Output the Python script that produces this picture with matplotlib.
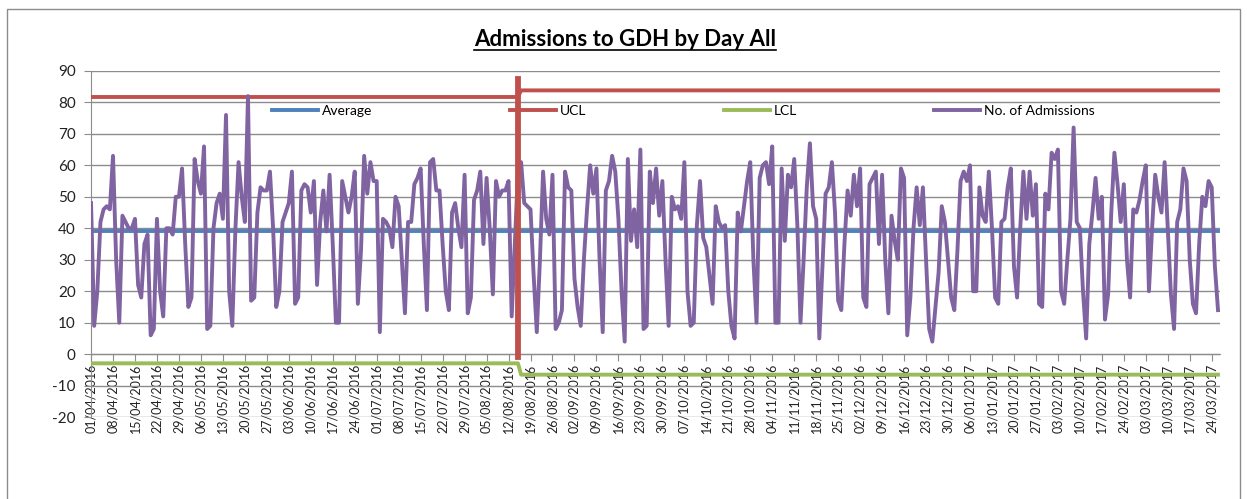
import matplotlib.pyplot as plt
import matplotlib.dates as mdates
import matplotlib.patches as patches
from matplotlib.lines import Line2D
import numpy as np
import pandas as pd

plt.rcParams['font.family'] = ['Lato', 'DejaVu Sans']
plt.rcParams['axes.unicode_minus'] = False

# daily admissions from 01/04/2016
admissions = [
    48, 9, 20, 42, 46, 47, 46,
    63, 30, 10, 44, 42, 40, 40,
    43, 22, 18, 35, 38, 6, 8,
    43, 20, 12, 40, 40, 38, 50,
    50, 59, 35, 15, 18, 62, 55,
    51, 66, 8, 9, 40, 48, 51,
    43, 76, 20, 9, 40, 61, 50,
    42, 82, 17, 18, 45, 53, 52,
    52, 58, 40, 15, 20, 42, 45,
    48, 58, 16, 18, 52, 54, 53,
    45, 55, 22, 42, 52, 39, 57,
    35, 10, 10, 55, 50, 45, 50,
    58, 16, 33, 63, 51, 61, 55,
    55, 7, 43, 42, 40, 34, 50,
    47, 30, 13, 42, 42, 54, 56,
    59, 35, 14, 61, 62, 52, 52,
    35, 20, 14, 45, 48, 40, 34,
    57, 13, 18, 49, 52, 58, 35,
    56, 40, 19, 55, 50, 52, 52,
    55, 12, 35, 58, 61, 48, 47,
    46, 25, 7, 30, 58, 43, 38,
    57, 8, 10, 14, 58, 53, 52,
    24, 15, 9, 30, 46, 60, 51,
    59, 30, 7, 52, 55, 63, 58,
    43, 20, 4, 62, 36, 46, 34,
    65, 8, 9, 58, 48, 59, 44,
    55, 30, 9, 50, 46, 47, 43,
    61, 20, 9, 10, 41, 55, 37,
    34, 25, 16, 47, 42, 40, 41,
    20, 9, 5, 45, 39, 47, 55,
    61, 30, 10, 56, 60, 61, 54,
    66, 10, 10, 59, 36, 57, 53,
    62, 41, 10, 30, 53, 67, 47,
    43, 5, 28, 51, 53, 61, 45,
    17, 14, 35, 52, 44, 57, 47,
    59, 18, 15, 54, 56, 58, 35,
    57, 30, 13, 44, 36, 30, 59,
    56, 6, 18, 40, 53, 41, 53,
    30, 8, 4, 15, 26, 47, 42,
    30, 18, 14, 33, 55, 58, 55,
    60, 20, 20, 53, 44, 42, 58,
    40, 18, 16, 42, 43, 53, 59,
    28, 18, 40, 58, 43, 58, 44,
    54, 16, 15, 51, 46, 64, 62,
    65, 20, 16, 30, 43, 72, 42,
    40, 20, 5, 35, 45, 56, 43,
    50, 11, 19, 45, 64, 54, 42,
    54, 30, 18, 46, 45, 49, 55,
    60, 20, 40, 57, 50, 45, 61,
    40, 19, 8, 42, 46, 59, 55,
    30, 16, 13, 35, 50, 47, 55,
    53, 28, 14,
]
start_date = '2016-04-01'
average = 39.2
ucl_values = [81.7, 83.8]
lcl_values = [-2.9, -6.5]
limit_change = '2016-08-16'      # first day with the new limits
change_marker = '2016-08-15'     # vertical red line
change_marker_span = [-1, 87.5]

dates = pd.date_range(start_date, periods=len(admissions), freq='D')
new_limits = dates >= pd.Timestamp(limit_change)
ucl = np.where(new_limits, ucl_values[1], ucl_values[0])
lcl = np.where(new_limits, lcl_values[1], lcl_values[0])
avg = np.full(len(dates), average)

fig = plt.figure(figsize=(12.47, 4.99), dpi=100)
ax = fig.add_axes([0.073, 0.164, 0.905, 0.694])

ax.plot(dates, avg, color='#4F81BD', lw=2.8, label='Average', zorder=3)
ax.plot(dates, ucl, color='#C0504D', lw=2.8, label='UCL', zorder=3)
ax.plot(dates, lcl, color='#9BBB59', lw=2.8, label='LCL', zorder=3)
ax.plot(dates, admissions, color='#8064A2', lw=2.8, label='No. of Admissions', zorder=4)
mk = pd.Timestamp(change_marker)
ax.plot([mk, mk], change_marker_span, color='#C0504D', lw=4.2, zorder=5)

for s in ['top', 'right']:
    ax.spines[s].set_visible(False)
ax.spines['left'].set_color('#8C8C8C')
ax.spines['bottom'].set_color('#8C8C8C')
ax.spines['bottom'].set_position(('data', 0))

ax.set_ylim(-20, 90)
ax.set_yticks(range(-20, 91, 10))
ax.set_xlim(dates[0], dates[0] + pd.Timedelta(days=359.5))
ticks = pd.date_range(start_date, dates[-1], freq='7D')
ax.set_xticks(ticks)
ax.xaxis.set_major_formatter(mdates.DateFormatter('%d/%m/%Y'))

ax.grid(axis='y', color='#8C8C8C', lw=1)
ax.set_axisbelow(True)
ax.tick_params(axis='both', colors='#8C8C8C', labelcolor='#222222', length=5)
ax.tick_params(axis='x', pad=2, labelrotation=90, labelsize=9)
ax.tick_params(axis='y', pad=6, labelsize=11)

ax.legend(ncol=4, loc='center left', bbox_to_anchor=(265 / 1247, 1 - 111 / 499),
          bbox_transform=fig.transFigure, frameon=False, fontsize=10,
          handlelength=3.3, handletextpad=0.3, columnspacing=9.9, borderpad=0)

title = fig.text(0.501, 1 - 40 / 499, 'Admissions to GDH by Day All', ha='center', va='center',
                 fontsize=16, fontweight='bold', color='black')

# outer chart frame
fig.patches.append(patches.Rectangle((7 / 1247, -0.1), 1233 / 1247, 1.1 - 9 / 499, transform=fig.transFigure,
                                     fill=False, edgecolor='#8C8C8C', lw=1))

# underline the title
fig.canvas.draw()
bb = title.get_window_extent(fig.canvas.get_renderer())
W, H = fig.get_size_inches() * fig.dpi
fig.lines.append(Line2D([bb.x0 / W, bb.x1 / W], [(bb.y0 + 1) / H] * 2, transform=fig.transFigure,
                        color='black', lw=1.2))

fig.savefig('out.png', dpi=100)
